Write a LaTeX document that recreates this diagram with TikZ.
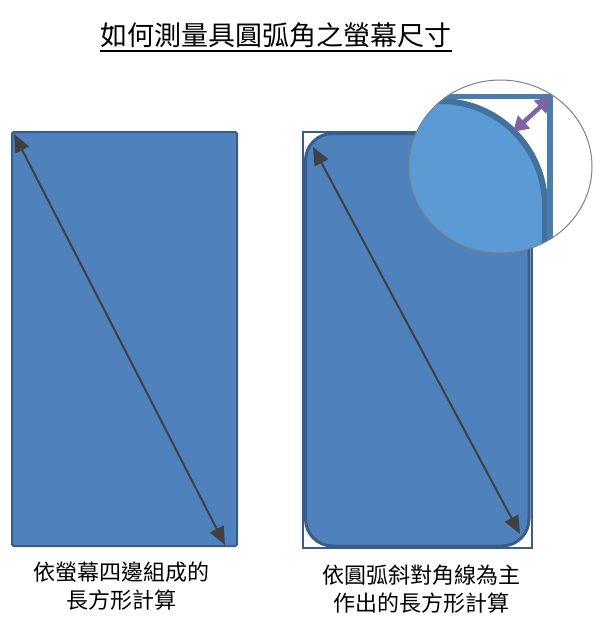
\documentclass[tikz,border=0pt]{standalone}
\usepackage{fontspec}
\newfontfamily\cjk{Noto Sans CJK TC}
\usepackage{tikz}
\usetikzlibrary{arrows.meta, positioning}
\definecolor{scrfill}{HTML}{4F81BD}
\definecolor{scrline}{HTML}{385D8A}
\definecolor{zoomfill}{HTML}{5B9BD5}
\definecolor{zoomline}{HTML}{41719C}
\definecolor{zoombar}{HTML}{4A7DAF}
\definecolor{diaggray}{HTML}{404040}
\definecolor{gappurple}{HTML}{8064A2}
\tikzset{
  screen/.style={fill=scrfill, draw=scrline, line width=2pt},
  diag/.style={diaggray, line width=2pt,
    {Triangle[length=18pt,width=15pt]}-{Triangle[length=18pt,width=15pt]}},
  gap/.style={gappurple, line width=4.5pt,
    {Triangle[length=15pt,width=17pt]}-{Triangle[length=15pt,width=17pt]}},
  caption/.style={font=\cjk\fontsize{22}{27.5}\selectfont, align=center},
}

\begin{document}
\begin{tikzpicture}[x=1pt,y=-1pt]
    \useasboundingbox (0,0) rectangle (601,624);

    % title
    \node[font=\cjk\fontsize{27}{30}\selectfont, inner sep=0pt, anchor=base] (title) at (276,45) {如何測量具圓弧角之螢幕尺寸};
    \draw[line width=2pt] ([yshift=-6pt]title.base west) -- ([yshift=-6pt]title.base east);

    % left screen
    \draw[screen, rounded corners=1.5pt] (12,132) rectangle (237,546);
    \coordinate (LA) at (14,134);
    \coordinate (LB) at (225,545);
    \draw[diag] (LA) -- (LB);

    % right screen
    \draw[draw=scrline, line width=1.5pt, fill=white] (303,132) rectangle (532,548);
    \draw[screen, line width=3pt, rounded corners=27pt] (305.5,133.5) rectangle (529,546);
    \coordinate (RA) at (313,147);
    \coordinate (RB) at (520,534);
    \draw[diag] (RA) -- (RB);

    % magnified corner
    \begin{scope}
        \clip (500.5,166.5) ellipse [x radius=91.5pt, y radius=86.5pt];
        \fill[white] (400,70) rectangle (600,260);
        \filldraw[fill=zoomfill, draw=zoomline, line width=6pt, rounded corners=105pt]
            (300,101) -- (545,101) -- (545,400) -- (300,400) -- cycle;
        \fill[zoombar] (400,94) rectangle (553,99);
        \fill[zoombar] (547,94) rectangle (553,260);
        \coordinate (GA) at (513,132);
        \coordinate (GB) at (551,97);
        \draw[gap] (GA) -- (GB);
    \end{scope}
    \draw[gray, line width=1pt] (500.5,166.5) ellipse [x radius=91.5pt, y radius=86.5pt];

    % captions
    \node[caption] (capL) at (121.5,586) {依螢幕四邊組成的\\長方形計算};
    \node[caption] (capR) at (421.5,589) {依圓弧斜對角線為主\\作出的長方形計算};
\end{tikzpicture}
\end{document}
